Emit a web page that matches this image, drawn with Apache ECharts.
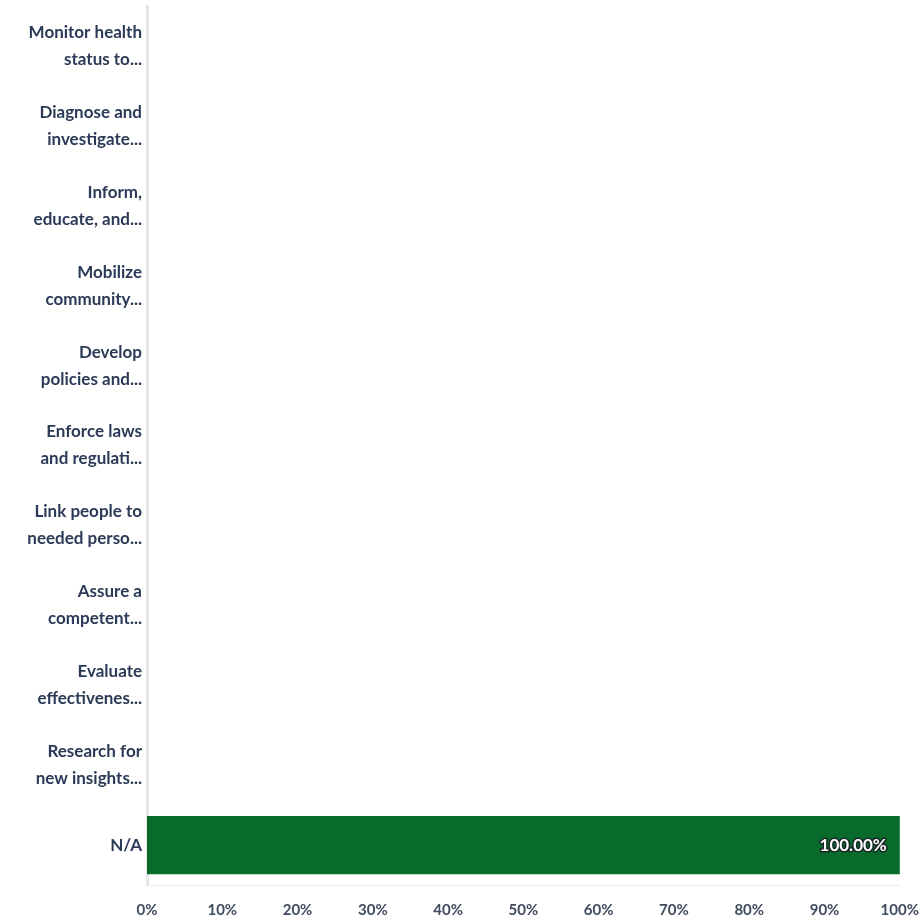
<!DOCTYPE html>
<html>
<head>
<meta charset="utf-8">
<script src="https://cdn.jsdelivr.net/npm/echarts@6/dist/echarts.min.js"></script>
<style>
  html, body { margin: 0; padding: 0; background: #fff; }
  #chart { width: 922px; height: 923px; }
</style>
</head>
<body>
<div id="chart"></div>
<script>
var categories = [
  'Monitor health\nstatus to...',
  'Diagnose and\ninvestigate...',
  'Inform,\neducate, and...',
  'Mobilize\ncommunity...',
  'Develop\npolicies and...',
  'Enforce laws\nand regulati...',
  'Link people to\nneeded perso...',
  'Assure a\ncompetent...',
  'Evaluate\neffectivenes...',
  'Research for\nnew insights...',
  'N/A'
];
var values = [0, 0, 0, 0, 0, 0, 0, 0, 0, 0, 100];
var xTicks = [0, 10, 20, 30, 40, 50, 60, 70, 80, 90, 100];

var chart = echarts.init(document.getElementById('chart'));

var option = {
  animation: false,
  grid: {
    left: 147,
    right: 16,
    top: 6,
    bottom: 38
  },
  xAxis: {
    type: 'value',
    min: xTicks[0],
    max: xTicks[xTicks.length - 1],
    interval: 10,
    axisLine: { show: true, lineStyle: { color: '#ececec', width: 1 } },
    axisTick: { show: false },
    splitLine: { show: false },
    axisLabel: {
      color: '#3f4b5e',
      fontFamily: 'Lato',
      fontWeight: 'bold',
      fontSize: 15,
      margin: 18,
      formatter: '{value}%'
    }
  },
  yAxis: {
    type: 'category',
    inverse: true,
    data: categories,
    axisLine: { show: true, lineStyle: { color: '#e6e6e6', width: 3 } },
    axisTick: { show: false },
    axisLabel: {
      color: '#2b3a57',
      fontFamily: 'Lato',
      fontWeight: 'bold',
      fontSize: 17,
      lineHeight: 27,
      margin: 5,
      align: 'right'
    }
  },
  series: [
    {
      type: 'bar',
      data: values,
      barCategoryGap: '27%',
      itemStyle: { color: '#086b2c' },
      label: {
        show: true,
        position: 'insideRight',
        offset: [-8, 0],
        color: '#ffffff',
        fontFamily: 'Lato',
        fontWeight: 'bold',
        fontSize: 17,
        textBorderColor: '#1a2424',
        textBorderWidth: 3,
        formatter: function (p) {
          return p.value > 0 ? p.value.toFixed(2) + '%' : '';
        }
      }
    }
  ]
};

chart.setOption(option);

window.onresize = () => {
  chart.resize();
};
</script>
</body>
</html>
